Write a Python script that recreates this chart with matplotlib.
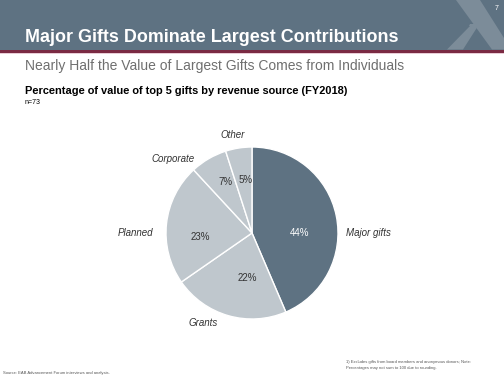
import matplotlib.pyplot as plt
from matplotlib.patches import Rectangle, Polygon

plt.rcParams['font.family'] = ['Liberation Sans', 'DejaVu Sans']

# data
sources = ["Major gifts", "Grants", "Planned", "Corporate", "Other"]
shares = [44, 22, 23, 7, 5]
pct_labels = ["44%", "22%", "23%", "7%", "5%"]

dark = "#5e7282"
light = "#bfc7cd"
colors = [dark, light, light, light, light]

# where the category / percent labels sit (axes units, radius = 1)
label_pos = [(1.09, 0.0, "left"), (-0.57, -1.05, "center"), (-1.15, 0.0, "right"),
             (-0.67, 0.86, "right"), (-0.22, 1.14, "center")]
pct_pos = [(0.55, 0.0), (-0.05, -0.52), (-0.6, -0.05), (-0.31, 0.59), (-0.07, 0.62)]

fig = plt.figure(figsize=(5.04, 3.78), dpi=100)

# background / decoration layer in pixel coords
bg = fig.add_axes([0, 0, 1, 1])
bg.set_xlim(0, 504)
bg.set_ylim(378, 0)
bg.axis("off")
bg.add_patch(Rectangle((0, 0), 504, 49.5, color=dark, lw=0))
bg.add_patch(Rectangle((0, 50), 504, 3, color="#7a2a43", lw=0))
bg.add_patch(Rectangle((0, 53), 504, 1.2, color="#e9cdd6", lw=0))
# logo stripes
logo = "#7c8c99"
bg.add_patch(Polygon([(456, 0), (480, 0), (504, 38), (504, 49.5), (492, 49.5)], color=logo, lw=0))
bg.add_patch(Polygon([(447, 49.5), (463, 49.5), (478, 26), (470, 26)], color=logo, lw=0))
bg.add_patch(Polygon([(470, 24), (488, 24), (489, 26), (469, 26)], color=logo, lw=0))

bg.text(497, 8, "7", color="white", fontsize=5, ha="center", va="center")
bg.text(25, 37, "Major Gifts Dominate Largest Contributions", color="white",
        fontsize=12.9, fontweight="bold", va="center")
bg.text(25, 66, "Nearly Half the Value of Largest Gifts Comes from Individuals",
        color="#6f6f6f", fontsize=10, va="center")
bg.text(25, 91, "Percentage of value of top 5 gifts by revenue source (FY2018)",
        color="black", fontsize=7.9, fontweight="bold", va="center")
bg.text(25, 103, "n=73", color="black", fontsize=5, va="center")
bg.text(3, 373, "Source: EAB Advancement Forum interviews and analysis.",
        color="#555555", fontsize=3, va="center")
bg.text(346, 362, "1) Excludes gifts from board members and anonymous donors; Note:",
        color="#555555", fontsize=3, va="center")
bg.text(346, 368, "Percentages may not sum to 100 due to rounding.",
        color="#555555", fontsize=3, va="center")

# pie
ax = fig.add_axes([166 / 504, 59 / 378, 172 / 504, 172 / 378])
wedges, texts = ax.pie(
    shares, colors=colors, startangle=90, counterclock=False,
    wedgeprops=dict(edgecolor="white", linewidth=1))
for name, (x, y, ha) in zip(sources, label_pos):
    ax.text(x, y, name, ha=ha, va="center", fontsize=7, style="italic", color="#333333")
for i, (lab, (x, y)) in enumerate(zip(pct_labels, pct_pos)):
    ax.text(x, y, lab, ha="center", va="center", fontsize=7,
            color="white" if i == 0 else "#333333")
ax.set_xlim(-1, 1)
ax.set_ylim(-1, 1)
ax.set_aspect("equal")

fig.savefig("out.png", dpi=100)
